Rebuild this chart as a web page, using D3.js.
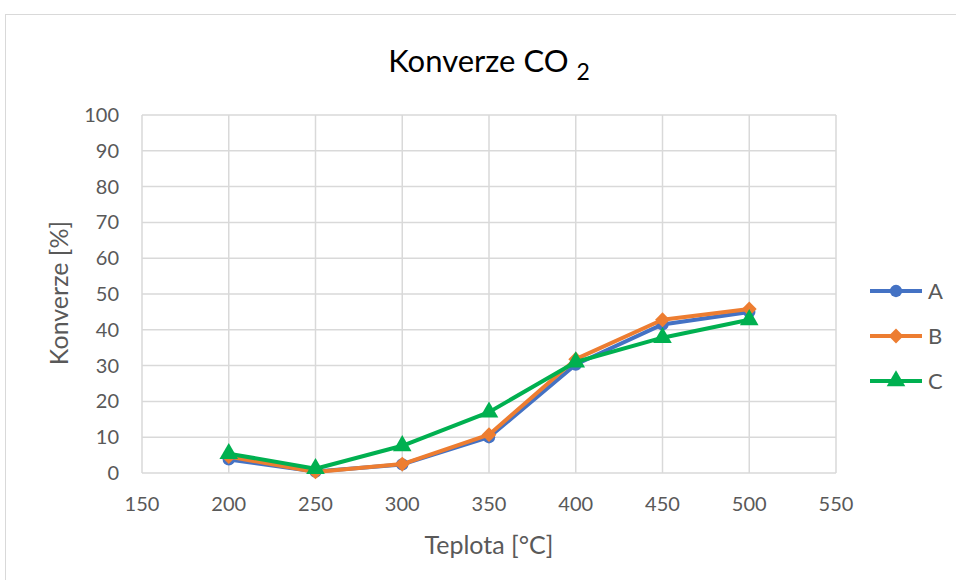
<!DOCTYPE html>
<html>
<head>
<meta charset="utf-8">
<script src="https://cdn.jsdelivr.net/npm/d3@7"></script>
<style>
  body { margin: 0; background: #fff; }
  text { font-family: Lato, "Open Sans", sans-serif; }
</style>
</head>
<body>
<div id="chart"></div>
<script>
// chart data
var temps = [200, 250, 300, 350, 400, 450, 500];
var seriesNames = ["A", "B", "C"];
var valuesA = [3.8, 0.4, 2.4, 10.0, 30.3, 41.5, 45.0];
var valuesB = [4.6, 0.3, 2.5, 10.7, 31.8, 42.8, 45.8];
var valuesC = [5.4, 1.2, 7.6, 17.0, 31.0, 37.8, 42.8];
var xTicks = [150, 200, 250, 300, 350, 400, 450, 500, 550];
var yTicks = [0, 10, 20, 30, 40, 50, 60, 70, 80, 90, 100];

var colors = ["#4472C4", "#ED7D31", "#00B050"];
var series = [valuesA, valuesB, valuesC];

width = 956;
height = 580;

// marker per series: circle, diamond (rotated square), triangle
function marker(sel, s) {
    if (s == 1) {
        sel.attr("d", d3.symbol().type(d3.symbolSquare).size(110)())
            .attr("transform", function() { return d3.select(this).attr("transform") + " rotate(45)"; });
    } else if (s == 2) {
        sel.attr("d", d3.symbol().type(d3.symbolTriangle).size(150)());
    } else {
        sel.attr("d", d3.symbol().type(d3.symbolCircle).size(120)());
    }
}

var svg = d3.select("#chart").append("svg")
    .attr("width", width)
    .attr("height", height);

// chart frame, runs off right and bottom edge
svg.append("rect")
    .attr("x", 5.5).attr("y", 14.5)
    .attr("width", 1000).attr("height", 1000)
    .attr("fill", "#fff")
    .attr("stroke", "#d9d9d9");

var x = d3.scaleLinear().domain([150, 550]).range([142, 836]);
var y = d3.scaleLinear().domain([0, 100]).range([473, 115]);

// gridlines
var g = svg.append("g");
g.selectAll("line.v")
    .data(xTicks)
    .enter().append("line")
    .attr("x1", d => x(d)).attr("x2", d => x(d))
    .attr("y1", y(0)).attr("y2", y(100))
    .attr("stroke", "#d9d9d9").attr("stroke-width", 1.5);
g.selectAll("line.h")
    .data(yTicks)
    .enter().append("line")
    .attr("x1", x(150)).attr("x2", x(550))
    .attr("y1", d => y(d)).attr("y2", d => y(d))
    .attr("stroke", "#d9d9d9").attr("stroke-width", 1.5);

// tick labels
svg.append("g").selectAll("text")
    .data(xTicks)
    .enter().append("text")
    .attr("x", d => x(d))
    .attr("y", 511)
    .attr("text-anchor", "middle")
    .style("font-size", "20px")
    .style("fill", "#595959")
    .text(d => d);

svg.append("g").selectAll("text")
    .data(yTicks)
    .enter().append("text")
    .attr("x", 119)
    .attr("y", d => y(d) + 7)
    .attr("text-anchor", "end")
    .style("font-size", "20px")
    .style("fill", "#595959")
    .text(d => d);

// lines + markers
var line = d3.line()
    .x((d, i) => x(temps[i]))
    .y(d => y(d));

series.forEach((vals, s) => {
    svg.append("path")
        .datum(vals)
        .attr("d", line)
        .attr("fill", "none")
        .attr("stroke", colors[s])
        .attr("stroke-width", 4)
        .attr("stroke-linejoin", "round");
    svg.append("g").selectAll("path")
        .data(vals)
        .enter().append("path")
        .attr("transform", (d, i) => "translate(" + x(temps[i]) + "," + y(d) + ")")
        .attr("fill", colors[s])
        .call(marker, s);
});

// titles
var title = svg.append("text")
    .attr("x", 489).attr("y", 72)
    .attr("text-anchor", "middle")
    .style("font-size", "31px")
    .style("fill", "#000");
title.append("tspan").text("Konverze CO ");
title.append("tspan").attr("dy", 8).style("font-size", "23px").text("2");

svg.append("text")
    .attr("x", 489).attr("y", 554)
    .attr("text-anchor", "middle")
    .style("font-size", "25px")
    .style("fill", "#595959")
    .text("Teplota [°C]");

svg.append("text")
    .attr("transform", "translate(68,293) rotate(-90)")
    .attr("text-anchor", "middle")
    .style("font-size", "25px")
    .style("fill", "#595959")
    .text("Konverze [%]");

// legend
var leg = svg.append("g").selectAll("g")
    .data(seriesNames)
    .enter().append("g")
    .attr("transform", (d, i) => "translate(870," + (291 + i * 45) + ")");
leg.append("line")
    .attr("x1", 0).attr("x2", 52)
    .attr("stroke", (d, i) => colors[i])
    .attr("stroke-width", 4);
leg.append("path")
    .attr("transform", "translate(26,0)")
    .attr("fill", (d, i) => colors[i])
    .each(function(d, i) { d3.select(this).call(marker, i); });
leg.append("text")
    .attr("x", 58).attr("y", 8)
    .style("font-size", "22px")
    .style("fill", "#595959")
    .text(d => d);
</script>
</body>
</html>
